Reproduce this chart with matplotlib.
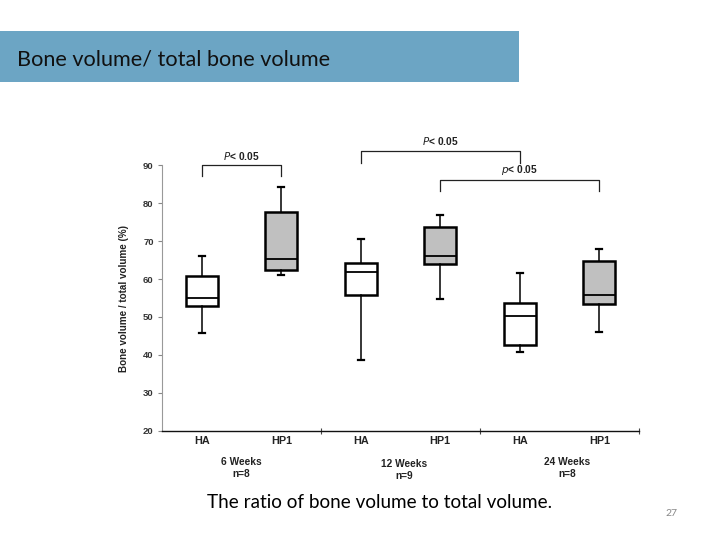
import matplotlib
matplotlib.use("Agg")
import matplotlib.pyplot as plt
from matplotlib.patches import Rectangle

# ---- data ----
groups = ["6 Weeks\nn=8", "12 Weeks\nn=9", "24 Weeks\nn=8"]
box_labels = ["HA", "HP1", "HA", "HP1", "HA", "HP1"]
whisker_low = [45.9, 61.1, 38.6, 54.7, 40.8, 46.0]
q1 = [53.0, 62.5, 55.7, 64.0, 42.6, 53.5]
median = [54.9, 65.4, 61.8, 66.1, 50.2, 55.8]
q3 = [60.7, 77.8, 64.3, 73.6, 53.7, 64.8]
whisker_high = [66.0, 84.4, 70.5, 76.8, 61.7, 68.0]
is_hp1 = [False, True, False, True, False, True]
# significance brackets: (box i, box j, bracket level, leg end, label)
brackets = [(0, 1, 90.0, 87.1, r"$\mathit{P}$< 0.05"),
            (2, 4, 93.7, 90.6, r"$\mathit{P}$< 0.05"),
            (3, 5, 86.0, 83.1, r"$\mathit{p}$< 0.05")]

fig = plt.figure(figsize=(7.2, 5.4), dpi=100)

# title bar
fig.patches.append(Rectangle((0, 1 - 82 / 540), 519 / 720, 51 / 540,
                             transform=fig.transFigure, facecolor="#6CA5C4",
                             edgecolor="none", zorder=0))
fig.text(17 / 720, 1 - 59 / 540, "Bone volume/ total bone volume",
         fontsize=15.6, family="Lato", color="#111111", va="center", ha="left")

ax = fig.add_axes([162 / 720, 1 - 430.7 / 540, 477 / 720, 265.4 / 540])

stats = []
for i in range(len(box_labels)):
    stats.append(dict(whislo=whisker_low[i], q1=q1[i], med=median[i],
                      q3=q3[i], whishi=whisker_high[i], fliers=[]))
positions = [0.5 + i for i in range(len(box_labels))]
bp = ax.bxp(stats, positions=positions, widths=0.4, patch_artist=True,
            showfliers=False, capwidths=0.07,
            boxprops=dict(linewidth=1.8, edgecolor="black"),
            whiskerprops=dict(linewidth=1.1, color="black"),
            capprops=dict(linewidth=1.6, color="black"),
            medianprops=dict(linewidth=1.3, color="black"))
for patch, hp in zip(bp["boxes"], is_hp1):
    patch.set_facecolor("#C0C0C0" if hp else "white")

ax.set_xlim(0, 6)
ax.set_ylim(20, 90)
ax.set_yticks(range(20, 91, 10))
ax.set_xticks([2, 4, 6])
ax.set_xticklabels([])
ax.tick_params(axis="x", direction="inout", length=5, width=0.8, color="#444444")
ax.tick_params(axis="y", direction="out", length=3, width=0.8, color="#888888",
               labelsize=6.8, labelcolor="#333333", pad=3)
for lab in ax.get_yticklabels():
    lab.set_fontweight("bold")
    lab.set_family("Liberation Sans")
ax.spines["top"].set_visible(False)
ax.spines["right"].set_visible(False)
ax.spines["left"].set_color("#999999")
ax.spines["left"].set_linewidth(0.8)
ax.spines["bottom"].set_color("#111111")
ax.spines["bottom"].set_linewidth(1.0)
ax.set_ylabel("Bone volume / total volume (%)", fontsize=7.1, fontweight="bold",
              family="Liberation Sans", color="#222222", labelpad=10)

# box labels
for p, lab in zip(positions, box_labels):
    ax.text(p, 17.3, lab, ha="center", va="center", fontsize=7.8,
            fontweight="bold", family="Liberation Sans", color="#222222",
            clip_on=False)
# group labels
group_x = [1.0, 3.05, 5.1]
group_y = [10.2, 9.6, 10.2]
for gx, gy, g in zip(group_x, group_y, groups):
    ax.text(gx, gy, g, ha="center", va="center", fontsize=7.3,
            fontweight="bold", family="Liberation Sans", color="#222222",
            linespacing=1.2, clip_on=False)

# brackets
for i, j, top, low, txt in brackets:
    xi, xj = positions[i], positions[j]
    ax.plot([xi, xi, xj, xj], [low, top, top, low], color="#222222",
            linewidth=0.9, clip_on=False)
    ax.text((xi + xj) / 2, top + 1.0, txt, ha="center", va="bottom",
            fontsize=7.4, family="Liberation Sans", fontweight="bold",
            color="#222222", clip_on=False)

fig.text(380 / 720, 1 - 502 / 540, "The ratio of bone volume to total volume.",
         fontsize=13.6, family="Lato", color="black", ha="center", va="center")
fig.text(671 / 720, 1 - 514 / 540, "27", fontsize=7.5, family="Lato",
         color="#888888", ha="center", va="center")

fig.savefig("out.png", dpi=100)
